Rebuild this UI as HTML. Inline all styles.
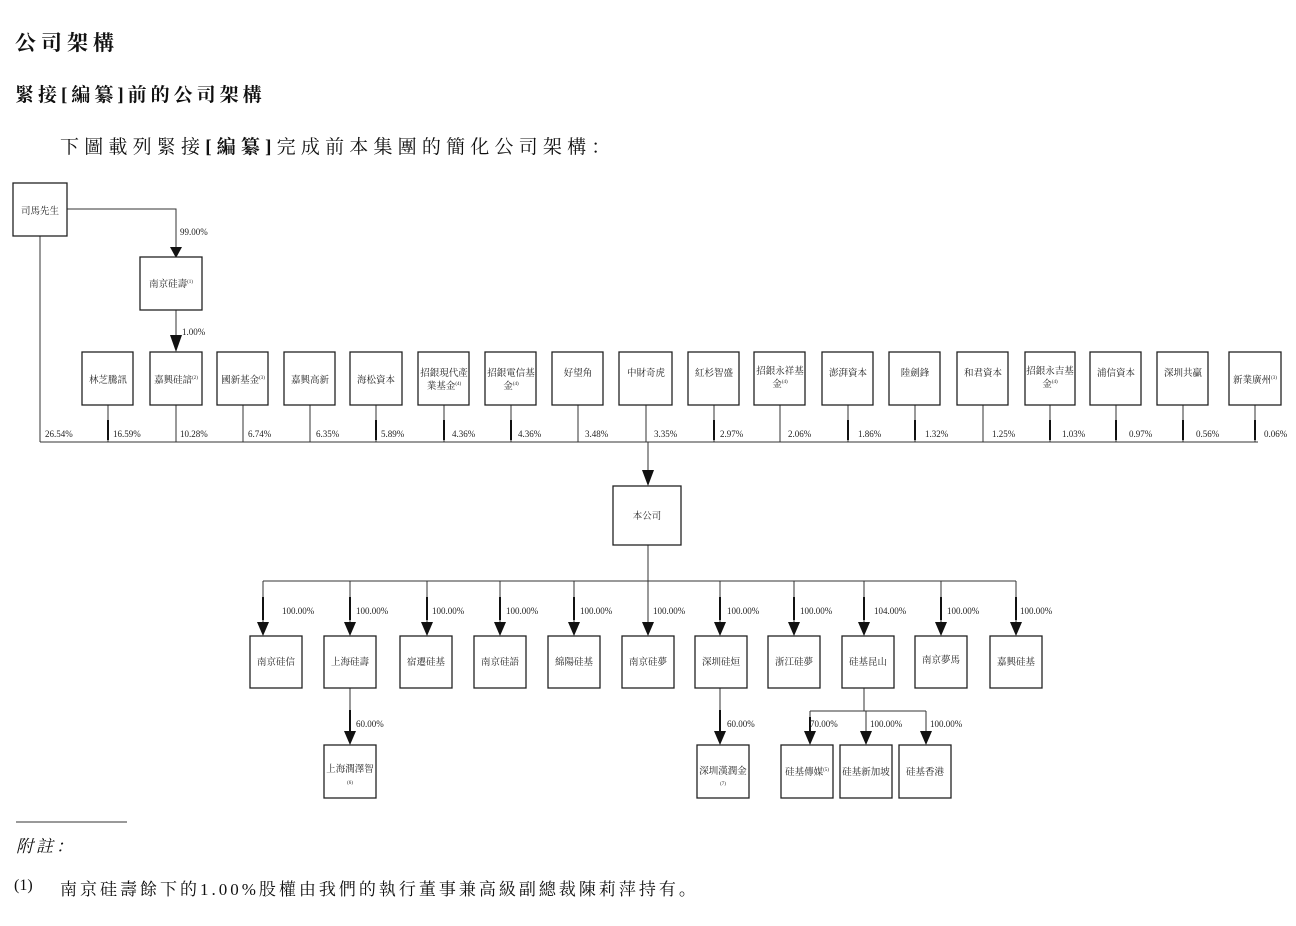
<!DOCTYPE html>
<html><head><meta charset="utf-8">
<style>
html,body{margin:0;padding:0;background:#fff;}
body{width:1296px;height:926px;position:relative;overflow:hidden;font-family:"Liberation Serif","Noto Serif CJK SC",serif;color:#111;}
.t{position:absolute;white-space:nowrap;}
</style></head><body>
<div class="t" style="left:15px;top:27px;font-size:21px;font-weight:bold;letter-spacing:5px;">公司架構</div>
<div class="t" style="left:15px;top:80px;font-size:19px;font-weight:bold;letter-spacing:4px;">緊接[編纂]前的公司架構</div>
<div class="t" style="left:60px;top:132px;font-size:19px;letter-spacing:5.2px;">下圖載列緊接<b>[編纂]</b>完成前本集團的簡化公司架構：</div>

<svg width="1296" height="926" style="position:absolute;left:0;top:0" xmlns="http://www.w3.org/2000/svg" font-family="Liberation Serif,Noto Serif CJK SC,serif" font-size="9.5" fill="#222">
<g stroke="#333" stroke-width="1" fill="none">
<polyline points="67,209 176,209 176,250"/>
<line x1="40" y1="236" x2="40" y2="442"/>
<line x1="176" y1="310" x2="176" y2="345"/>
<line x1="40" y1="442" x2="1258" y2="442"/>
<line x1="108" y1="405" x2="108" y2="442"/><line x1="176" y1="405" x2="176" y2="442"/>
<line x1="243" y1="405" x2="243" y2="442"/><line x1="310" y1="405" x2="310" y2="442"/>
<line x1="376" y1="405" x2="376" y2="442"/><line x1="444" y1="405" x2="444" y2="442"/>
<line x1="511" y1="405" x2="511" y2="442"/><line x1="578" y1="405" x2="578" y2="442"/>
<line x1="646" y1="405" x2="646" y2="442"/><line x1="714" y1="405" x2="714" y2="442"/>
<line x1="780" y1="405" x2="780" y2="442"/><line x1="848" y1="405" x2="848" y2="442"/>
<line x1="915" y1="405" x2="915" y2="442"/><line x1="983" y1="405" x2="983" y2="442"/>
<line x1="1050" y1="405" x2="1050" y2="442"/><line x1="1116" y1="405" x2="1116" y2="442"/>
<line x1="1183" y1="405" x2="1183" y2="442"/><line x1="1255" y1="405" x2="1255" y2="442"/>
<line x1="648" y1="442" x2="648" y2="478"/>
<line x1="648" y1="545" x2="648" y2="581"/>
<line x1="263" y1="581" x2="1016" y2="581"/>
<line x1="263" y1="581" x2="263" y2="628"/><line x1="350" y1="581" x2="350" y2="628"/>
<line x1="427" y1="581" x2="427" y2="628"/><line x1="500" y1="581" x2="500" y2="628"/>
<line x1="574" y1="581" x2="574" y2="628"/><line x1="648" y1="581" x2="648" y2="628"/>
<line x1="720" y1="581" x2="720" y2="628"/><line x1="794" y1="581" x2="794" y2="628"/>
<line x1="864" y1="581" x2="864" y2="628"/><line x1="941" y1="581" x2="941" y2="628"/>
<line x1="1016" y1="581" x2="1016" y2="628"/>
<line x1="350" y1="688" x2="350" y2="737"/>
<line x1="720" y1="688" x2="720" y2="737"/>
<line x1="864" y1="688" x2="864" y2="711"/>
<line x1="810" y1="711" x2="926" y2="711"/>
<line x1="810" y1="711" x2="810" y2="737"/><line x1="866" y1="711" x2="866" y2="737"/><line x1="926" y1="711" x2="926" y2="737"/>
<line x1="16" y1="822" x2="127" y2="822"/>
</g>
<g stroke="#111" stroke-width="2">
<line x1="108" y1="420" x2="108" y2="440"/><line x1="376" y1="420" x2="376" y2="440"/><line x1="444" y1="420" x2="444" y2="440"/><line x1="511" y1="420" x2="511" y2="440"/><line x1="714" y1="420" x2="714" y2="440"/><line x1="848" y1="420" x2="848" y2="440"/><line x1="915" y1="420" x2="915" y2="440"/><line x1="1050" y1="420" x2="1050" y2="440"/><line x1="1116" y1="420" x2="1116" y2="440"/><line x1="1183" y1="420" x2="1183" y2="440"/><line x1="1255" y1="420" x2="1255" y2="440"/>
<line x1="263" y1="597" x2="263" y2="620"/><line x1="350" y1="597" x2="350" y2="620"/><line x1="427" y1="597" x2="427" y2="620"/><line x1="500" y1="597" x2="500" y2="620"/><line x1="574" y1="597" x2="574" y2="620"/><line x1="720" y1="597" x2="720" y2="620"/><line x1="794" y1="597" x2="794" y2="620"/><line x1="864" y1="597" x2="864" y2="620"/><line x1="941" y1="597" x2="941" y2="620"/><line x1="1016" y1="597" x2="1016" y2="620"/>
<line x1="350" y1="710" x2="350" y2="733"/><line x1="720" y1="710" x2="720" y2="733"/><line x1="810" y1="717" x2="810" y2="733"/>
</g>
<g fill="#111">
<path d="M170,247 L182,247 L176,258z"/><path d="M170,335 L182,335 L176,352z"/>
<path d="M642,470 L654,470 L648,486z"/>
<path d="M257,622 L269,622 L263,636z"/><path d="M344,622 L356,622 L350,636z"/><path d="M421,622 L433,622 L427,636z"/><path d="M494,622 L506,622 L500,636z"/><path d="M568,622 L580,622 L574,636z"/><path d="M642,622 L654,622 L648,636z"/><path d="M714,622 L726,622 L720,636z"/><path d="M788,622 L800,622 L794,636z"/><path d="M858,622 L870,622 L864,636z"/><path d="M935,622 L947,622 L941,636z"/><path d="M1010,622 L1022,622 L1016,636z"/>
<path d="M344,731 L356,731 L350,745z"/><path d="M714,731 L726,731 L720,745z"/><path d="M804,731 L816,731 L810,745z"/><path d="M860,731 L872,731 L866,745z"/><path d="M920,731 L932,731 L926,745z"/>
</g>
<g stroke="#222" stroke-width="1.3" fill="#fff">
<rect x="13" y="183" width="54" height="53"/><rect x="140" y="257" width="62" height="53"/>
<rect x="82" y="352" width="51" height="53"/><rect x="150" y="352" width="52" height="53"/><rect x="217" y="352" width="51" height="53"/><rect x="284" y="352" width="51" height="53"/><rect x="350" y="352" width="52" height="53"/><rect x="418" y="352" width="51" height="53"/><rect x="485" y="352" width="51" height="53"/><rect x="552" y="352" width="51" height="53"/><rect x="619" y="352" width="53" height="53"/><rect x="688" y="352" width="51" height="53"/><rect x="754" y="352" width="51" height="53"/><rect x="822" y="352" width="51" height="53"/><rect x="889" y="352" width="51" height="53"/><rect x="957" y="352" width="51" height="53"/><rect x="1025" y="352" width="50" height="53"/><rect x="1090" y="352" width="51" height="53"/><rect x="1157" y="352" width="51" height="53"/><rect x="1229" y="352" width="52" height="53"/>
<rect x="613" y="486" width="68" height="59"/>
<rect x="250" y="636" width="52" height="52"/><rect x="324" y="636" width="52" height="52"/><rect x="400" y="636" width="52" height="52"/><rect x="474" y="636" width="52" height="52"/><rect x="548" y="636" width="52" height="52"/><rect x="622" y="636" width="52" height="52"/><rect x="695" y="636" width="52" height="52"/><rect x="768" y="636" width="52" height="52"/><rect x="842" y="636" width="52" height="52"/><rect x="915" y="636" width="52" height="52"/><rect x="990" y="636" width="52" height="52"/>
<rect x="324" y="745" width="52" height="53"/><rect x="697" y="745" width="52" height="53"/><rect x="781" y="745" width="52" height="53"/><rect x="840" y="745" width="52" height="53"/><rect x="899" y="745" width="52" height="53"/>
</g>
<g text-anchor="middle">
<text x="40" y="214">司馬先生</text><text x="171" y="287">南京硅壽<tspan font-size="5" dy="-4">(1)</tspan></text>
<text x="108" y="383">林芝騰訊</text><text x="176" y="383">嘉興硅諳<tspan font-size="5" dy="-4">(2)</tspan></text><text x="243" y="383">國新基金<tspan font-size="5" dy="-4">(3)</tspan></text><text x="310" y="383">嘉興高新</text><text x="376" y="383">海松資本</text>
<text x="444" y="376">招銀現代產</text><text x="444" y="389">業基金<tspan font-size="5" dy="-4">(4)</tspan></text>
<text x="511" y="376">招銀電信基</text><text x="511" y="389">金<tspan font-size="5" dy="-4">(4)</tspan></text>
<text x="578" y="376">好望角</text><text x="646" y="376">中財奇虎</text><text x="714" y="376">紅杉智盛</text>
<text x="780" y="374">招銀永祥基</text><text x="780" y="387">金<tspan font-size="5" dy="-4">(4)</tspan></text>
<text x="848" y="376">澎湃資本</text><text x="915" y="376">陸劍鋒</text><text x="983" y="376">和君資本</text>
<text x="1050" y="374">招銀永吉基</text><text x="1050" y="387">金<tspan font-size="5" dy="-4">(4)</tspan></text>
<text x="1116" y="376">浦信資本</text><text x="1183" y="376">深圳共贏</text><text x="1255" y="383">新業廣州<tspan font-size="5" dy="-4">(3)</tspan></text>
<text x="647" y="519">本公司</text>
<text x="276" y="665">南京硅信</text><text x="350" y="665">上海硅壽</text><text x="426" y="665">宿遷硅基</text><text x="500" y="665">南京硅語</text><text x="574" y="665">綿陽硅基</text><text x="648" y="665">南京硅夢</text><text x="721" y="665">深圳硅烜</text><text x="794" y="665">浙江硅夢</text><text x="868" y="665">硅基昆山</text><text x="941" y="663">南京夢馬</text><text x="1016" y="665">嘉興硅基</text>
<text x="350" y="772">上海潤澤智</text><text x="350" y="784" font-size="5">(6)</text>
<text x="723" y="774">深圳漢潤金</text><text x="723" y="785" font-size="5">(7)</text>
<text x="807" y="775">硅基傳媒<tspan font-size="5" dy="-4">(5)</tspan></text><text x="866" y="775">硅基新加坡</text><text x="925" y="775">硅基香港</text>
</g>
<g font-size="9">
<text x="180" y="235">99.00%</text><text x="182" y="335">1.00%</text>
<text x="45" y="437">26.54%</text><text x="113" y="437">16.59%</text><text x="180" y="437">10.28%</text><text x="248" y="437">6.74%</text><text x="316" y="437">6.35%</text><text x="381" y="437">5.89%</text><text x="452" y="437">4.36%</text><text x="518" y="437">4.36%</text><text x="585" y="437">3.48%</text><text x="654" y="437">3.35%</text><text x="720" y="437">2.97%</text><text x="788" y="437">2.06%</text><text x="858" y="437">1.86%</text><text x="925" y="437">1.32%</text><text x="992" y="437">1.25%</text><text x="1062" y="437">1.03%</text><text x="1129" y="437">0.97%</text><text x="1196" y="437">0.56%</text><text x="1264" y="437">0.06%</text>
<text x="282" y="614">100.00%</text><text x="356" y="614">100.00%</text><text x="432" y="614">100.00%</text><text x="506" y="614">100.00%</text><text x="580" y="614">100.00%</text><text x="653" y="614">100.00%</text><text x="727" y="614">100.00%</text><text x="800" y="614">100.00%</text><text x="874" y="614">104.00%</text><text x="947" y="614">100.00%</text><text x="1020" y="614">100.00%</text>
<text x="356" y="727">60.00%</text><text x="727" y="727">60.00%</text><text x="810" y="727">70.00%</text><text x="870" y="727">100.00%</text><text x="930" y="727">100.00%</text>
</g>
</svg>
<div class="t" style="left:16px;top:832px;font-size:17px;font-style:italic;letter-spacing:3px;">附註：</div>
<div class="t" style="left:14px;top:877px;font-size:16px;">(1)</div>
<div class="t" style="left:60px;top:875px;font-size:17px;letter-spacing:3px;">南京硅壽餘下的1.00%股權由我們的執行董事兼高級副總裁陳莉萍持有。</div>
</body></html>
